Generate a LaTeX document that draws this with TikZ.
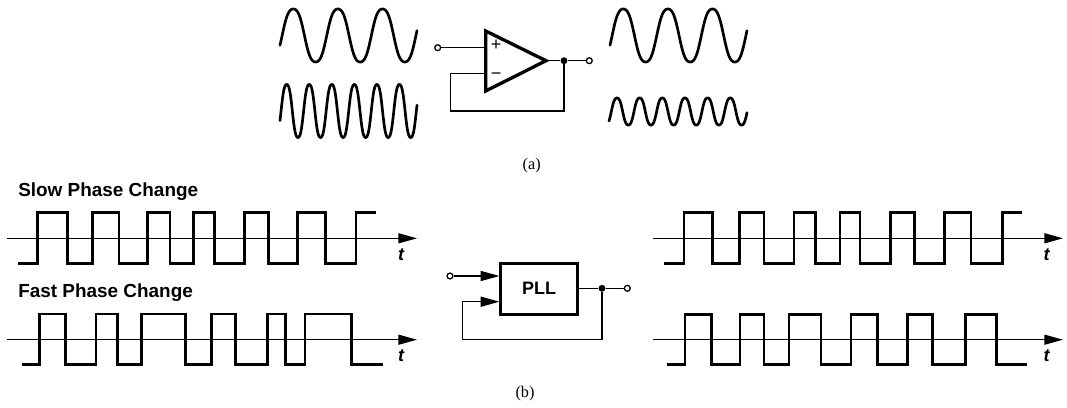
\documentclass[tikz,border=0pt]{standalone}
\usepackage{fontspec}
\setmainfont{Liberation Serif}
\newfontfamily\hv{Liberation Sans}
\usetikzlibrary{arrows.meta}
\tikzset{
  x=0.75pt,y=-0.75pt,
  wave/.style={line width=2pt,line cap=round},
  sq/.style={line width=2pt,line join=miter},
  wire/.style={line width=0.95pt},
  tipped/.style={line width=1pt,-{Triangle[length=14pt,width=7.5pt]}},
  port/.style={circle,draw,line width=0.95pt,fill=white,inner sep=0pt,minimum size=4.4pt},
  junction/.style={circle,fill=black,inner sep=0pt,minimum size=5.2pt},
  amp/.style={line width=2.5pt,line join=miter},
  plbl/.style={font=\fontsize{12.2pt}{14pt}\selectfont},
  hd/.style={font=\hv\bfseries\fontsize{14.2pt}{16pt}\selectfont,anchor=west,inner sep=0pt},
  tl/.style={font=\hv\bfseries\itshape\fontsize{13.5pt}{16pt}\selectfont},
  sgn/.style={font=\hv\fontsize{13.5pt}{14pt}\selectfont},
  block/.style={draw,line width=2pt,minimum width=57.4pt,minimum height=38.2pt,inner sep=0pt,font=\hv\bfseries\fontsize{13.5pt}{16pt}\selectfont}
}
\begin{document}
\begin{tikzpicture}
\path[use as bounding box] (0,0) rectangle (1067,407);
% sine waves
\draw[wave] plot[domain=280:417,samples=160] (\x,{35.5-28.2*(cos(8.0717*(\x-293.3))-0.06*cos(24.215*(\x-293.3)))});
\draw[wave] plot[domain=280:417,samples=220] (\x,{111-28.2*(cos(15.965*(\x-286.7))-0.06*cos(47.895*(\x-286.7)))});
\draw[wave] plot[domain=610:747,samples=160] (\x,{35.5-28.2*(cos(8.0717*(\x-623.3))-0.06*cos(24.215*(\x-623.3)))});
\draw[wave] plot[domain=609:747,samples=220] (\x,{111.5-14.4*(cos(15.894*(\x-617))-0.06*cos(47.682*(\x-617)))});
% op amp
\coordinate (ta) at (485.7,31);
\coordinate (tb) at (485.7,91);
\coordinate (tc) at (546,60.7);
\coordinate (ip) at (485.7,47.7);
\coordinate (im) at (485.7,73.3);
\coordinate (fl) at (450.7,111);
\node[port] (ain) at (437.7,47.7) {};
\node[junction] (aj) at (564,60.7) {};
\node[port] (aout) at (589.3,60.7) {};
\draw[wire] (ain) -- (ip);
\draw[wire] (im) -| (fl) -| (aj);
\draw[wire] (tc) -- (aj) -- (aout);
\draw[amp] (ta) -- (tc) -- (tb) -- cycle;
\node[sgn] (plus) at (496,45) {+};
\node[sgn] (minus) at (496,76.5) {−};
\node[plbl] (la) at (531.7,165.5) {(a)};
% headings
\node[hd] (h1) at (18,192) {Slow Phase Change};
\node[hd] (h2) at (18,292.5) {Fast Phase Change};
% axes
\coordinate (a1s) at (7.3,238.3); \coordinate (a1e) at (417,238.3);
\coordinate (a2s) at (7.3,339.7); \coordinate (a2e) at (417,339.7);
\coordinate (a3s) at (653,238.3); \coordinate (a3e) at (1063,238.3);
\coordinate (a4s) at (653,339.7); \coordinate (a4e) at (1063,339.7);
\draw[tipped] (a1s) -- (a1e);
\draw[tipped] (a2s) -- (a2e);
\draw[tipped] (a3s) -- (a3e);
\draw[tipped] (a4s) -- (a4e);
\node[tl] (t1) at (401,255) {t};
\node[tl] (t2) at (401,356) {t};
\node[tl] (t3) at (1046.5,255) {t};
\node[tl] (t4) at (1046.5,356) {t};
% square waves
\draw[sq] (18.3,263.3) -| (37.7,212.7) -| (67.7,263.3) -| (92.7,212.7) -| (119,263.3) -| (147.7,212.7) -| (170,263.3) -| (193.7,212.7) -| (214.3,263.3) -| (244.3,212.7) -| (268.7,263.3) -| (297.7,212.7) -| (325.3,263.3) -| (356,212.7) -- (376,212.7);
\draw[sq] (21.7,364.7) -| (39.3,314) -| (65.7,364.7) -| (96,314) -| (117.3,364.7) -| (141.3,314) -| (185.3,364.7) -| (211.7,314) -| (235.7,364.7) -| (267.7,314) -| (285.3,364.7) -| (305,314) -| (351.3,364.7) -- (382.7,364.7);
\draw[sq] (664.3,263.3) -| (684,212.7) -| (712.7,263.3) -| (739.3,212.7) -| (764,263.3) -| (794,212.7) -| (815.7,263.3) -| (840,212.7) -| (860,263.3) -| (890.7,212.7) -| (914.3,263.3) -| (944.3,212.7) -| (971,263.3) -| (1002.3,212.7) -- (1022,212.7);
\draw[sq] (667.3,364.7) -| (685,314.3) -| (711.7,364.7) -| (740,314.3) -| (764,364.7) -| (789,314.3) -| (821,364.7) -| (851,314.3) -| (877.7,364.7) -| (907.7,314.3) -| (932.7,364.7) -| (965.7,314.3) -| (996.7,364.7) -- (1026.7,364.7);
% PLL
\node[block] (pll) at (539,288.8) {PLL};
\node[port] (bin) at (450,276) {};
\node[junction] (bj) at (602,288.3) {};
\node[port] (bout) at (627.3,288.3) {};
\coordinate (fb) at (462.7,301.7);
\coordinate (fc) at (462.7,339.3);
\draw[tipped] (bin) -- (pll.west |- bin);
\draw[wire] (pll.east |- bj) -- (bj) -- (bout);
\draw[tipped] (bj) |- (fc) -- (fb) -- (pll.west |- fb);
\node[plbl] (lb) at (525,394) {(b)};
\end{tikzpicture}
\end{document}
